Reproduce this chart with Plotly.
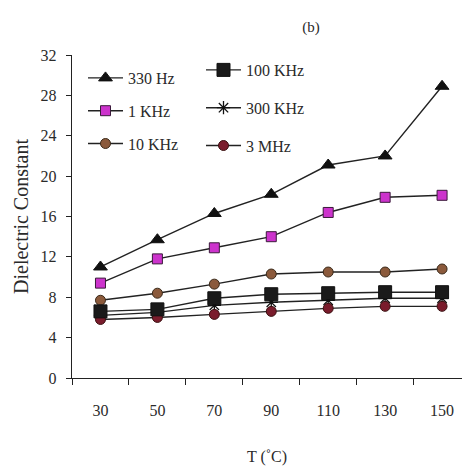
import plotly.graph_objects as go

temps = ["30", "50", "70", "90", "110", "130", "150"]
hz330 = [11.0, 13.7, 16.3, 18.2, 21.1, 22.0, 28.9]
khz1 = [9.4, 11.8, 12.9, 14.0, 16.4, 17.9, 18.1]
khz10 = [7.7, 8.4, 9.3, 10.3, 10.5, 10.5, 10.8]
khz100 = [6.6, 6.8, 7.9, 8.3, 8.4, 8.5, 8.5]
khz300 = [6.2, 6.5, 7.2, 7.5, 7.7, 7.9, 7.9]
mhz3 = [5.8, 6.0, 6.3, 6.6, 6.9, 7.1, 7.1]
y_ticks = [0, 4, 8, 12, 16, 20, 24, 28, 32]

FONT = "Liberation Serif"
TXT = "#2a2a2a"
series = [
    ("330 Hz", hz330, dict(symbol="triangle-up", size=12, color="#111111",
                           line=dict(color="#111111", width=1)), "legend"),
    ("1 KHz", khz1, dict(symbol="square", size=10, color="#CC33CC",
                         line=dict(color="#3a1a3a", width=1)), "legend"),
    ("10 KHz", khz10, dict(symbol="circle", size=10, color="#8B5A3C",
                           line=dict(color="#3a2a1a", width=1)), "legend"),
    ("300 KHz", khz300, dict(symbol="asterisk-open", size=11, color="#111111",
                             line=dict(color="#111111", width=1.3)), "legend2"),
    ("3 MHz", mhz3, dict(symbol="circle", size=10, color="#7A1C2C",
                         line=dict(color="#3a1010", width=1)), "legend2"),
    ("100 KHz", khz100, dict(symbol="square", size=13, color="#1a1a1a",
                             line=dict(color="#111111", width=1)), "legend2"),
]
order2 = {"100 KHz": 0, "300 KHz": 1, "3 MHz": 2}

fig = go.Figure()
for i, (name, vals, marker, lg) in enumerate(series):
    rank = order2.get(name, i)
    fig.add_trace(go.Scatter(
        x=temps, y=vals, name=name, mode="lines+markers",
        line=dict(color="#222222", width=1.4), marker=marker,
        legend=lg, legendgroup=name, legendrank=rank + 1,
    ))

legend_common = dict(
    xref="paper", yref="paper", xanchor="left", yanchor="top",
    bgcolor="rgba(0,0,0,0)", font=dict(family=FONT, size=16, color=TXT),
    itemwidth=35,
)
fig.update_layout(
    width=462, height=466,
    margin=dict(l=72, r=0, t=55, b=88, autoexpand=False),
    plot_bgcolor="white", paper_bgcolor="white",
    showlegend=True,
    legend=dict(x=(83 - 72) / 390, y=(378 - 61) / 323, tracegroupgap=9,
                **legend_common),
    legend2=dict(x=(201 - 72) / 390, y=(378 - 53) / 323, tracegroupgap=14,
                 **legend_common),
    title=dict(text="(b)", x=311 / 462, xanchor="center", y=1 - 27 / 466,
               yanchor="middle", font=dict(family=FONT, size=15, color=TXT)),
    font=dict(family=FONT, size=16, color=TXT),
)
fig.update_xaxes(
    type="category", range=[-0.5, 6.35], tickson="boundaries",
    ticks="outside", ticklen=6, tickcolor="#222", showline=True,
    linecolor="#222", linewidth=1.4, showgrid=False, zeroline=False,
    tickangle=0, automargin=False,
    ticklabelstandoff=18, tickfont=dict(family=FONT, size=16, color=TXT),
    title=dict(text="T (˚C)", standoff=34,
               font=dict(family=FONT, size=16, color=TXT)),
)
fig.update_yaxes(
    range=[0, 32], tickvals=y_ticks, ticks="outside", ticklen=5,
    tickcolor="#222", showline=True, linecolor="#222", linewidth=1.4,
    showgrid=False, zeroline=False, ticklabelstandoff=6, automargin=False,
    tickfont=dict(family=FONT, size=16, color=TXT),
    title=dict(text="Dielectric Constant", standoff=6,
               font=dict(family=FONT, size=20, color=TXT)),
)
fig.write_html("out.html", config={"displayModeBar": False},
               post_script="document.body.style.margin='0px';")
